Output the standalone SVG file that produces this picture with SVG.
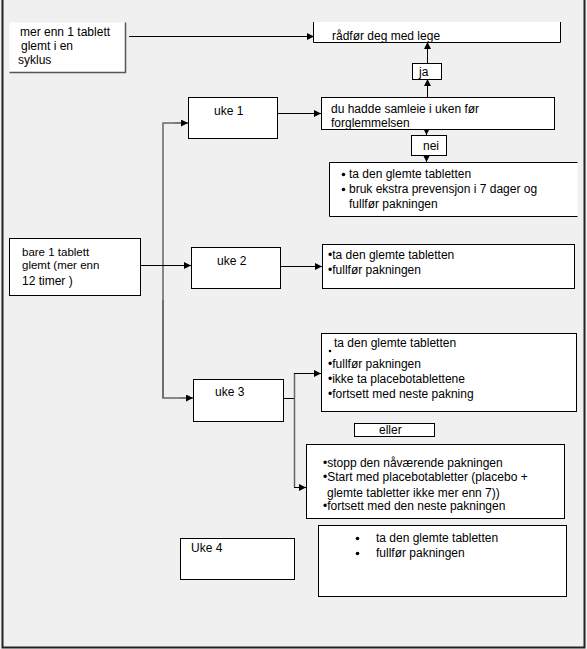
<svg xmlns="http://www.w3.org/2000/svg" width="587" height="649" viewBox="0 0 587 649">
<style>
  text { font-family: "Liberation Sans", Arial, sans-serif; font-size: 12px; fill: #000; }
  .box { fill: #fff; stroke: #000; stroke-width: 1; }
  .edge { fill: none; stroke: #000; stroke-width: 1; }
  .gedge { fill: none; stroke: #666; stroke-width: 1.5; }
  .bline { fill: none; stroke: #000; stroke-width: 1; }
</style>
<defs>
  <marker id="arr" viewBox="0 0 10 10" refX="10" refY="5" markerWidth="8" markerHeight="7" markerUnits="userSpaceOnUse" orient="auto">
    <path d="M0,0 L10,5 L0,10 z" fill="#000"/>
  </marker>
</defs>
<rect x="0" y="0" width="587" height="649" fill="#f0f0f0"/>
<path d="M2.5,0 V647.5 H584.5 V0" fill="none" stroke="#222" stroke-width="2"/>

<g id="connectors">
  <path class="edge" d="M129,36.5 H314" marker-end="url(#arr)"/>
  <path class="edge" d="M427.5,63 V42" marker-end="url(#arr)"/>
  <path class="edge" d="M427.5,97 V79" marker-end="url(#arr)"/>
  <path class="edge" d="M277,113.5 H321" marker-end="url(#arr)"/>
  <path class="edge" d="M426.5,130 V135" marker-end="url(#arr)"/>
  <path class="edge" d="M426.5,155 V162" marker-end="url(#arr)"/>
  <path class="gedge" d="M163,398 V123 H175"/>
  <path class="edge" d="M175,123 H188" marker-end="url(#arr)"/>
  <path class="gedge" d="M163,300 V398 H180"/>
  <path class="edge" d="M180,398 H193" marker-end="url(#arr)"/>
  <path class="edge" d="M141,265.5 H191" marker-end="url(#arr)"/>
  <path class="edge" d="M281,266.5 H322" marker-end="url(#arr)"/>
  <path class="edge" d="M279,398.5 H294.5"/>
  <path class="gedge" d="M294.5,373 V487"/>
  <path class="edge" d="M294,373.5 H321" marker-end="url(#arr)"/>
  <path class="edge" d="M294,487.5 H306" marker-end="url(#arr)"/>
</g>

<g id="n-mer">
  <rect x="9.5" y="22.5" width="116" height="50" fill="#fff"/>
  <path d="M125.5,22.5 V72.5 H9.5" fill="none" stroke="#555" stroke-width="1.5"/>
  <text x="20" y="36">mer enn 1 tablett</text>
  <text x="21" y="50">glemt i en</text>
  <text x="18" y="64">syklus</text>
</g>

<g id="n-lege">
  <rect x="313" y="22" width="247" height="20" fill="#fff"/>
  <path class="bline" d="M313.5,22 V42.5 H560.5 V22"/>
  <text x="332" y="40">rådfør deg med  lege</text>
</g>

<g id="n-ja">
  <rect class="box" x="412.5" y="63.5" width="29" height="16"/>
  <text x="419" y="76">ja</text>
</g>

<g id="n-uke1">
  <rect class="box" x="188.5" y="97.5" width="89" height="41"/>
  <text x="214" y="115">uke 1</text>
</g>

<g id="n-samleie">
  <rect class="box" x="321.5" y="97.5" width="233" height="32"/>
  <text x="331" y="113">du hadde samleie i uken før</text>
  <text x="331" y="127">forglemmelsen</text>
</g>

<g id="n-nei">
  <rect class="box" x="411.5" y="135.5" width="35" height="20"/>
  <text x="423" y="150">nei</text>
</g>

<g id="n-uke1-tiltak">
  <rect x="329.5" y="162.5" width="248" height="54" fill="#fff"/>
  <path class="bline" d="M577.5,162.5 H329.5 V216.5 H577.5"/>
  <circle cx="343.5" cy="174.5" r="1.8"/>
  <text x="349" y="178">ta den glemte tabletten</text>
  <circle cx="343.5" cy="189.5" r="1.8"/>
  <text x="349" y="193">bruk ekstra prevensjon i 7 dager og</text>
  <text x="349" y="208">fullfør pakningen</text>
</g>

<g id="n-bare">
  <rect class="box" x="9.5" y="238.5" width="131" height="57"/>
  <text x="22" y="256" style="font-size:11.5px">bare 1 tablett</text>
  <text x="22" y="269" style="font-size:11.5px">glemt (mer enn</text>
  <text x="22" y="285">12 timer )</text>
</g>

<g id="n-uke2">
  <rect class="box" x="191.5" y="247.5" width="89" height="41"/>
  <text x="217" y="265">uke 2</text>
</g>

<g id="n-uke2-tiltak">
  <rect class="box" x="322.5" y="244.5" width="252" height="44"/>
  <text x="328" y="259">•ta den glemte tabletten</text>
  <text x="328" y="274">•fullfør pakningen</text>
</g>

<g id="n-uke3">
  <rect class="box" x="193.5" y="379.5" width="90" height="42"/>
  <text x="215" y="396">uke 3</text>
</g>

<g id="n-uke3-a">
  <rect class="box" x="321.5" y="333.5" width="255" height="78"/>
  <text x="334" y="347">ta den glemte tabletten</text>
  <circle cx="330" cy="351" r="1.3"/>
  <text x="328" y="368">•fullfør pakningen</text>
  <text x="328" y="383">•ikke ta placebotablettene</text>
  <text x="328" y="398">•fortsett med neste pakning</text>
</g>

<g id="n-eller">
  <rect class="box" x="354.5" y="423.5" width="80" height="13"/>
  <text x="379" y="434">eller</text>
</g>

<g id="n-uke3-b">
  <rect class="box" x="306.5" y="444.5" width="258" height="74"/>
  <text x="323" y="467">•stopp den nåværende pakningen</text>
  <text x="323" y="481">•Start med placebotabletter (placebo +</text>
  <text x="327" y="497">glemte tabletter ikke mer enn 7))</text>
  <text x="323" y="510">•fortsett med den neste pakningen</text>
</g>

<g id="n-uke4">
  <rect class="box" x="180.5" y="538.5" width="114" height="41"/>
  <text x="191" y="552">Uke 4</text>
</g>

<g id="n-uke4-tiltak">
  <rect class="box" x="318.5" y="525.5" width="248" height="71"/>
  <circle cx="357.5" cy="538.5" r="1.8"/>
  <text x="376" y="542">ta den glemte tabletten</text>
  <circle cx="357.5" cy="553.5" r="1.8"/>
  <text x="376" y="557">fullfør pakningen</text>
</g>
</svg>
